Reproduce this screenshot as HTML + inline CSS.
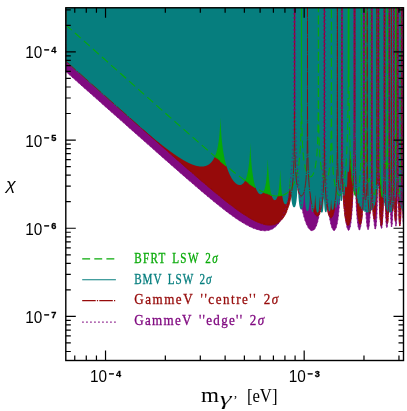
<!DOCTYPE html>
<html><head><meta charset="utf-8"><title>plot</title>
<style>html,body{margin:0;padding:0;background:#fff;}svg{display:block;}</style></head>
<body>
<svg width="407" height="411" viewBox="0 0 407 411">
<rect width="407" height="411" fill="#fff"/>
<defs><clipPath id="c"><rect x="65.8" y="7.8" width="337.70" height="352.70"/></clipPath>
<path id="purple" d="M65.80 1.80 L65.80 71.49 L70.65 75.79 L75.50 80.09 L80.34 84.39 L85.19 88.70 L90.04 93.00 L94.89 97.30 L99.73 101.61 L104.58 105.91 L109.43 110.21 L114.28 114.51 L119.13 118.81 L123.97 123.11 L128.82 127.41 L133.67 131.70 L138.52 136.00 L143.37 140.29 L148.21 144.58 L153.06 148.86 L157.91 153.15 L162.76 157.42 L167.60 161.69 L172.45 165.95 L177.30 170.20 L182.15 174.43 L187.00 178.65 L191.84 182.84 L196.69 187.01 L201.54 191.14 L206.39 195.23 L211.24 199.27 L216.08 203.23 L220.93 207.11 L225.78 210.88 L230.63 214.50 L235.47 217.95 L240.32 221.18 L245.17 224.11 L250.02 226.67 L254.87 228.74 L259.71 230.17 L261.09 230.42 L262.47 230.61 L263.84 230.70 L265.20 230.71 L266.56 230.62 L267.90 230.43 L269.23 230.12 L270.55 229.69 L271.85 229.14 L273.13 228.44 L274.38 227.60 L275.62 226.61 L276.82 225.45 L278.00 224.12 L279.15 222.60 L280.27 220.89 L281.36 218.98 L282.41 216.85 L283.42 214.49 L284.39 211.89 L285.33 209.03 L286.22 205.89 L287.07 202.47 L287.88 198.73 L288.64 194.65 L289.35 190.20 L290.01 185.36 L290.63 180.07 L291.20 174.31 L291.71 167.99 L292.17 161.06 L292.58 153.41 L292.94 144.91 L293.24 135.33 L293.49 124.31 L293.68 111.07 L293.82 93.76 L293.91 66.05 L293.93 1.80 L293.95 54.34 L294.00 79.94 L294.07 93.86 L294.17 102.57 L294.29 108.05 L294.42 111.13 L294.56 112.17 L294.69 111.26 L294.83 108.29 L294.94 102.91 L295.04 94.29 L295.12 80.43 L295.16 54.88 L295.18 1.80 L295.19 52.80 L295.23 79.96 L295.30 96.48 L295.39 108.80 L295.52 118.90 L295.66 127.62 L295.84 135.40 L296.04 142.45 L296.27 148.94 L296.52 154.96 L296.80 160.57 L297.10 165.83 L297.42 170.77 L297.77 175.42 L298.14 179.80 L298.53 183.94 L298.94 187.86 L299.37 191.56 L299.82 195.06 L300.30 198.37 L300.78 201.50 L301.29 204.46 L301.81 207.25 L302.34 209.87 L302.89 212.33 L303.45 214.64 L304.02 216.79 L304.60 218.78 L305.20 220.63 L305.80 222.32 L306.40 223.86 L307.02 225.25 L307.63 226.48 L308.26 227.56 L308.88 228.48 L309.51 229.24 L310.13 229.84 L310.75 230.28 L311.38 230.54 L311.99 230.64 L312.61 230.56 L313.21 230.31 L313.81 229.88 L314.41 229.26 L314.99 228.45 L315.56 227.45 L316.12 226.25 L316.67 224.85 L317.20 223.24 L317.72 221.41 L318.23 219.37 L318.72 217.09 L319.19 214.58 L319.64 211.83 L320.07 208.82 L320.48 205.55 L320.87 202.00 L321.24 198.15 L321.59 193.99 L321.91 189.49 L322.21 184.63 L322.49 179.36 L322.74 173.65 L322.97 167.43 L323.17 160.60 L323.35 153.03 L323.49 144.47 L323.62 134.50 L323.71 122.27 L323.78 105.82 L323.82 78.70 L323.83 1.80 L323.85 80.81 L323.90 106.41 L323.97 120.34 L324.07 129.06 L324.19 134.55 L324.32 137.64 L324.45 138.67 L324.59 137.76 L324.72 134.79 L324.84 129.40 L324.94 120.76 L325.01 106.90 L325.06 81.34 L325.08 1.80 L325.09 76.65 L325.12 103.72 L325.18 120.10 L325.27 132.25 L325.37 142.14 L325.50 150.63 L325.65 158.16 L325.83 164.97 L326.02 171.19 L326.24 176.94 L326.48 182.26 L326.73 187.21 L327.01 191.82 L327.30 196.12 L327.61 200.12 L327.94 203.84 L328.28 207.30 L328.64 210.50 L329.01 213.46 L329.39 216.17 L329.79 218.64 L330.19 220.88 L330.61 222.88 L331.03 224.65 L331.45 226.19 L331.89 227.50 L332.32 228.57 L332.76 229.41 L333.20 230.01 L333.64 230.37 L334.08 230.48 L334.51 230.35 L334.95 229.97 L335.37 229.34 L335.79 228.45 L336.21 227.30 L336.61 225.88 L337.01 224.19 L337.39 222.22 L337.76 219.96 L338.12 217.41 L338.46 214.56 L338.79 211.40 L339.10 207.92 L339.39 204.09 L339.67 199.90 L339.92 195.33 L340.16 190.35 L340.38 184.90 L340.57 178.93 L340.75 172.35 L340.90 165.00 L341.03 156.66 L341.13 146.89 L341.22 134.84 L341.28 118.52 L341.31 91.49 L341.32 1.80 L341.34 96.21 L341.39 121.82 L341.46 135.76 L341.56 144.50 L341.68 150.00 L341.81 153.10 L341.94 154.13 L342.08 153.22 L342.21 150.24 L342.33 144.83 L342.43 136.18 L342.50 122.31 L342.55 96.74 L342.57 1.80 L342.58 96.36 L342.63 123.54 L342.70 140.09 L342.80 152.42 L342.93 162.50 L343.09 171.16 L343.28 178.80 L343.49 185.65 L343.73 191.85 L343.99 197.48 L344.27 202.58 L344.58 207.21 L344.90 211.39 L345.24 215.13 L345.60 218.45 L345.97 221.35 L346.35 223.84 L346.74 225.93 L347.14 227.61 L347.54 228.88 L347.95 229.74 L348.35 230.18 L348.76 230.21 L349.16 229.81 L349.56 228.98 L349.95 227.71 L350.33 226.00 L350.70 223.84 L351.06 221.21 L351.40 218.11 L351.72 214.52 L352.02 210.42 L352.31 205.78 L352.57 200.57 L352.81 194.73 L353.02 188.19 L353.21 180.80 L353.36 172.35 L353.50 162.44 L353.60 150.23 L353.67 133.77 L353.72 106.64 L353.73 1.80 L353.75 107.06 L353.79 132.68 L353.87 146.63 L353.97 155.39 L354.08 160.91 L354.22 164.02 L354.35 165.06 L354.49 164.14 L354.62 161.14 L354.74 155.72 L354.84 147.05 L354.91 133.15 L354.96 107.57 L354.98 1.80 L354.99 109.60 L355.04 136.84 L355.13 153.45 L355.24 165.86 L355.39 175.97 L355.57 184.62 L355.78 192.17 L356.01 198.85 L356.27 204.77 L356.55 210.01 L356.86 214.60 L357.18 218.57 L357.52 221.94 L357.87 224.72 L358.23 226.91 L358.60 228.51 L358.98 229.51 L359.35 229.92 L359.73 229.73 L360.10 228.92 L360.46 227.49 L360.81 225.44 L361.15 222.75 L361.48 219.40 L361.78 215.37 L362.06 210.64 L362.32 205.16 L362.56 198.85 L362.77 191.61 L362.94 183.22 L363.09 173.30 L363.21 161.05 L363.29 144.54 L363.34 117.36 L363.36 1.80 L363.37 115.38 L363.42 141.01 L363.49 154.99 L363.59 163.77 L363.71 169.32 L363.84 172.44 L363.98 173.49 L364.12 172.56 L364.25 169.54 L364.37 164.10 L364.47 155.40 L364.54 141.48 L364.59 115.88 L364.60 1.80 L364.62 120.61 L364.68 147.91 L364.77 164.60 L364.91 177.05 L365.07 187.17 L365.28 195.72 L365.51 203.06 L365.77 209.38 L366.05 214.78 L366.36 219.32 L366.69 223.01 L367.03 225.88 L367.38 227.93 L367.73 229.14 L368.09 229.53 L368.45 229.08 L368.80 227.78 L369.14 225.61 L369.46 222.57 L369.77 218.63 L370.06 213.76 L370.32 207.89 L370.55 200.93 L370.75 192.70 L370.92 182.83 L371.05 170.56 L371.15 154.00 L371.20 126.77 L371.22 1.80 L371.24 122.08 L371.28 147.74 L371.36 161.74 L371.46 170.56 L371.57 176.13 L371.71 179.27 L371.84 180.32 L371.98 179.38 L372.11 176.35 L372.23 170.87 L372.33 162.14 L372.40 148.19 L372.45 122.57 L372.47 1.80 L372.49 127.58 L372.54 154.85 L372.64 171.47 L372.78 183.81 L372.94 193.74 L373.15 202.03 L373.38 209.02 L373.63 214.87 L373.91 219.68 L374.21 223.49 L374.52 226.31 L374.84 228.14 L375.17 228.99 L375.49 228.84 L375.82 227.69 L376.13 225.52 L376.43 222.31 L376.70 218.04 L376.96 212.66 L377.19 206.07 L377.39 198.12 L377.56 188.44 L377.70 176.30 L377.79 159.81 L377.85 132.62 L377.87 1.80 L377.89 127.66 L377.93 153.33 L378.01 167.38 L378.11 176.23 L378.22 181.83 L378.36 185.00 L378.49 186.06 L378.63 185.11 L378.76 182.05 L378.88 176.53 L378.98 167.75 L379.05 153.77 L379.10 128.12 L379.11 1.80 L379.14 134.38 L379.20 161.63 L379.30 178.21 L379.44 190.45 L379.62 200.18 L379.83 208.14 L380.07 214.65 L380.33 219.86 L380.62 223.83 L380.91 226.58 L381.22 228.12 L381.53 228.45 L381.83 227.55 L382.13 225.42 L382.41 222.02 L382.68 217.33 L382.92 211.26 L383.13 203.66 L383.30 194.21 L383.45 182.19 L383.55 165.76 L383.61 138.59 L383.63 1.80 L383.65 132.39 L383.69 158.09 L383.77 172.17 L383.87 181.07 L383.98 186.71 L384.12 189.90 L384.25 190.97 L384.39 190.01 L384.52 186.92 L384.64 181.36 L384.74 172.54 L384.81 158.50 L384.86 132.83 L384.87 1.80 L384.90 139.42 L384.96 166.62 L385.06 183.10 L385.21 195.15 L385.39 204.61 L385.60 212.18 L385.83 218.15 L386.09 222.66 L386.37 225.76 L386.65 227.47 L386.94 227.77 L387.22 226.66 L387.50 224.13 L387.75 220.13 L387.99 214.61 L388.20 207.42 L388.38 198.26 L388.52 186.43 L388.63 170.11 L388.69 143.00 L388.71 1.80 L388.73 136.46 L388.77 162.20 L388.85 176.32 L388.95 185.27 L389.06 190.96 L389.20 194.18 L389.33 195.26 L389.47 194.28 L389.60 191.16 L389.72 185.55 L389.82 176.67 L389.89 162.58 L389.94 136.87 L389.96 1.80 L389.98 144.39 L390.04 171.55 L390.15 187.91 L390.30 199.76 L390.49 208.87 L390.70 215.93 L390.94 221.19 L391.20 224.77 L391.47 226.70 L391.74 226.99 L392.01 225.62 L392.27 222.56 L392.51 217.77 L392.72 211.11 L392.91 202.32 L393.06 190.72 L393.17 174.52 L393.24 147.47 L393.26 1.80 L393.27 140.00 L393.32 165.77 L393.39 179.95 L393.49 188.95 L393.61 194.70 L393.74 197.95 L393.88 199.04 L394.02 198.05 L394.15 194.88 L394.27 189.22 L394.36 180.27 L394.44 166.13 L394.48 140.38 L394.50 1.80 L394.52 147.23 L394.59 174.28 L394.69 190.47 L394.84 202.06 L395.01 210.83 L395.22 217.44 L395.44 222.16 L395.69 225.07 L395.93 226.22 L396.18 225.59 L396.43 223.17 L396.65 218.90 L396.86 212.67 L397.03 204.22 L397.18 192.87 L397.28 176.85 L397.35 149.89 L397.37 1.80 L397.38 143.10 L397.43 168.91 L397.50 183.15 L397.60 192.22 L397.72 198.02 L397.85 201.31 L397.99 202.41 L398.13 201.40 L398.26 198.19 L398.38 192.46 L398.48 183.45 L398.55 169.24 L398.60 143.45 L398.61 1.80 L398.63 149.88 L398.70 176.83 L398.80 192.84 L398.94 204.16 L399.11 212.55 L399.31 218.67 L399.52 222.77 L399.75 224.92 L399.98 225.16 L400.21 223.47 L400.43 219.81 L400.62 214.06 L400.79 205.97 L400.93 194.89 L401.04 179.05 L401.10 152.20 L401.12 1.80 L401.14 145.82 L401.18 171.68 L401.26 185.98 L401.36 195.12 L401.47 200.99 L401.61 204.33 L401.74 205.44 L401.88 204.41 L402.01 201.15 L402.13 195.34 L402.23 186.25 L402.30 171.97 L402.35 146.13 L402.36 1.80 L402.38 144.67 L402.42 171.31 L402.49 186.89 L402.58 197.80 L402.69 205.92 L402.81 212.06 L402.93 216.61 L403.06 219.85 L403.18 222.01 L403.29 223.29 L403.38 223.95 L403.44 224.20 L403.49 224.25 L403.50 224.25 L403.50 1.80"/>
<path id="red" d="M65.80 1.80 L65.80 61.09 L70.66 65.41 L75.52 69.72 L80.38 74.04 L85.24 78.35 L90.10 82.67 L94.97 86.98 L99.83 91.30 L104.69 95.61 L109.55 99.92 L114.41 104.24 L119.27 108.55 L124.13 112.86 L128.99 117.17 L133.85 121.48 L138.71 125.79 L143.58 130.09 L148.44 134.40 L153.30 138.70 L158.16 143.00 L163.02 147.29 L167.88 151.58 L172.74 155.86 L177.60 160.13 L182.46 164.39 L187.32 168.64 L192.18 172.87 L197.05 177.08 L201.91 181.26 L206.77 185.40 L211.63 189.50 L216.49 193.55 L221.35 197.53 L226.21 201.42 L231.07 205.21 L235.93 208.85 L240.79 212.31 L245.66 215.55 L250.52 218.50 L255.38 221.07 L260.24 223.14 L261.62 223.61 L263.00 224.03 L264.37 224.38 L265.74 224.67 L267.10 224.87 L268.45 225.00 L269.78 225.04 L271.10 224.99 L272.41 224.84 L273.69 224.59 L274.95 224.22 L276.18 223.74 L277.39 223.14 L278.58 222.41 L279.73 221.54 L280.85 220.54 L281.94 219.39 L282.99 218.08 L284.01 216.61 L284.98 214.98 L285.92 213.16 L286.82 211.17 L287.67 208.97 L288.48 206.57 L289.24 203.94 L289.95 201.07 L290.62 197.92 L291.24 194.48 L291.81 190.69 L292.32 186.49 L292.79 181.81 L293.20 176.52 L293.55 170.44 L293.86 163.30 L294.11 154.61 L294.30 143.48 L294.44 127.87 L294.52 101.27 L294.55 1.80 L294.56 87.89 L294.61 114.38 L294.68 129.82 L294.77 140.71 L294.89 149.10 L295.04 155.88 L295.22 161.55 L295.42 166.38 L295.64 170.57 L295.89 174.23 L296.16 177.47 L296.45 180.33 L296.76 182.87 L297.08 185.13 L297.43 187.13 L297.79 188.89 L298.16 190.44 L298.55 191.77 L298.94 192.91 L299.35 193.87 L299.76 194.64 L300.18 195.22 L300.60 195.63 L301.02 195.87 L301.45 195.92 L301.87 195.80 L302.29 195.49 L302.70 195.00 L303.10 194.32 L303.50 193.44 L303.89 192.35 L304.26 191.04 L304.62 189.50 L304.96 187.70 L305.29 185.64 L305.60 183.27 L305.89 180.57 L306.16 177.48 L306.41 173.94 L306.63 169.87 L306.83 165.13 L307.00 159.55 L307.15 152.83 L307.28 144.50 L307.37 133.65 L307.44 118.24 L307.48 91.77 L307.50 1.80 L307.51 88.42 L307.54 114.99 L307.60 130.56 L307.68 141.64 L307.79 150.26 L307.91 157.34 L308.06 163.34 L308.23 168.56 L308.42 173.18 L308.63 177.33 L308.86 181.09 L309.12 184.53 L309.39 187.69 L309.67 190.61 L309.98 193.31 L310.30 195.82 L310.64 198.15 L310.99 200.31 L311.36 202.32 L311.73 204.17 L312.12 205.89 L312.53 207.46 L312.94 208.90 L313.35 210.21 L313.78 211.38 L314.21 212.42 L314.65 213.32 L315.09 214.10 L315.53 214.74 L315.97 215.24 L316.42 215.61 L316.86 215.84 L317.30 215.93 L317.74 215.87 L318.17 215.67 L318.59 215.32 L319.01 214.82 L319.42 214.16 L319.82 213.34 L320.21 212.36 L320.59 211.20 L320.96 209.87 L321.31 208.34 L321.65 206.61 L321.97 204.67 L322.27 202.50 L322.56 200.08 L322.83 197.38 L323.08 194.36 L323.31 190.98 L323.53 187.18 L323.72 182.86 L323.89 177.91 L324.04 172.14 L324.16 165.27 L324.27 156.81 L324.35 145.85 L324.40 130.37 L324.44 103.85 L324.45 1.80 L324.46 107.24 L324.51 133.77 L324.57 149.29 L324.67 160.28 L324.79 168.80 L324.94 175.73 L325.12 181.57 L325.32 186.59 L325.54 190.98 L325.79 194.86 L326.06 198.31 L326.35 201.39 L326.66 204.14 L326.98 206.60 L327.33 208.79 L327.69 210.73 L328.06 212.42 L328.45 213.88 L328.84 215.12 L329.25 216.12 L329.66 216.91 L330.08 217.47 L330.50 217.81 L330.92 217.92 L331.35 217.81 L331.77 217.46 L332.19 216.88 L332.60 216.07 L333.00 215.01 L333.40 213.70 L333.79 212.13 L334.16 210.30 L334.52 208.20 L334.86 205.81 L335.19 203.12 L335.50 200.11 L335.79 196.76 L336.06 193.01 L336.30 188.83 L336.53 184.12 L336.73 178.80 L336.90 172.67 L337.05 165.46 L337.18 156.71 L337.27 145.53 L337.34 129.87 L337.38 103.24 L337.40 1.80 L337.42 111.26 L337.48 137.55 L337.58 152.65 L337.73 163.05 L337.91 170.77 L338.12 176.69 L338.36 181.29 L338.62 184.81 L338.91 187.41 L339.21 189.18 L339.51 190.17 L339.82 190.41 L340.13 189.88 L340.43 188.56 L340.71 186.38 L340.98 183.26 L341.22 179.02 L341.43 173.40 L341.61 165.94 L341.75 155.74 L341.86 140.79 L341.92 114.59 L341.94 1.80 L341.95 106.62 L342.00 133.30 L342.06 149.05 L342.16 160.37 L342.28 169.29 L342.43 176.69 L342.61 183.05 L342.81 188.63 L343.03 193.61 L343.28 198.09 L343.54 202.15 L343.83 205.83 L344.14 209.17 L344.46 212.18 L344.81 214.88 L345.16 217.28 L345.53 219.37 L345.92 221.17 L346.31 222.66 L346.71 223.85 L347.11 224.73 L347.52 225.30 L347.94 225.54 L348.35 225.46 L348.77 225.03 L349.18 224.27 L349.58 223.14 L349.98 221.65 L350.38 219.78 L350.76 217.52 L351.13 214.86 L351.48 211.77 L351.83 208.25 L352.15 204.26 L352.46 199.77 L352.75 194.76 L353.01 189.18 L353.26 182.97 L353.48 176.07 L353.68 168.37 L353.86 159.75 L354.01 149.99 L354.13 138.73 L354.23 125.23 L354.29 107.67 L354.34 79.78 L354.35 1.80 L354.36 65.20 L354.38 90.79 L354.41 104.69 L354.45 113.38 L354.50 118.83 L354.56 121.88 L354.62 122.88 L354.68 121.93 L354.73 118.92 L354.78 113.50 L354.83 104.85 L354.86 90.97 L354.88 65.40 L354.89 1.80 L354.90 83.28 L354.95 111.42 L355.03 129.32 L355.15 143.19 L355.29 154.79 L355.46 164.84 L355.66 173.70 L355.89 181.57 L356.15 188.58 L356.43 194.83 L356.73 200.38 L357.05 205.29 L357.38 209.59 L357.74 213.31 L358.10 216.48 L358.47 219.10 L358.85 221.18 L359.24 222.74 L359.62 223.78 L360.01 224.29 L360.39 224.29 L360.76 223.77 L361.12 222.72 L361.48 221.15 L361.81 219.05 L362.13 216.41 L362.43 213.19 L362.71 209.38 L362.97 204.91 L363.20 199.70 L363.40 193.59 L363.57 186.36 L363.72 177.53 L363.83 166.26 L363.91 150.52 L363.96 123.84 L363.98 1.80 L364.00 129.90 L364.07 156.06 L364.18 170.92 L364.33 180.95 L364.51 188.15 L364.73 193.36 L364.97 197.03 L365.23 199.35 L365.50 200.46 L365.77 200.40 L366.04 199.17 L366.30 196.71 L366.54 192.92 L366.76 187.56 L366.94 180.23 L367.09 170.08 L367.21 155.13 L367.27 128.91 L367.29 1.80 L367.32 127.74 L367.38 154.35 L367.48 169.95 L367.63 181.00 L367.80 189.48 L368.02 196.22 L368.26 201.63 L368.52 205.94 L368.81 209.24 L369.11 211.61 L369.41 213.07 L369.72 213.63 L370.03 213.28 L370.33 211.99 L370.61 209.72 L370.88 206.40 L371.12 201.88 L371.33 195.93 L371.51 188.14 L371.65 177.64 L371.76 162.45 L371.82 136.09 L371.84 1.80 L371.86 135.09 L371.92 161.62 L372.02 177.11 L372.15 188.02 L372.32 196.34 L372.53 202.92 L372.76 208.17 L373.02 212.33 L373.30 215.51 L373.60 217.78 L373.90 219.15 L374.22 219.65 L374.54 219.27 L374.86 218.00 L375.17 215.82 L375.46 212.70 L375.74 208.61 L376.00 203.49 L376.23 197.24 L376.44 189.65 L376.61 180.36 L376.74 168.58 L376.84 152.40 L376.90 125.41 L376.92 1.80 L376.94 124.69 L377.00 150.43 L377.09 164.57 L377.22 173.53 L377.36 179.27 L377.53 182.58 L377.70 183.77 L377.88 182.94 L378.05 179.98 L378.19 174.55 L378.32 165.83 L378.41 151.89 L378.47 126.27 L378.49 1.80 L378.51 126.52 L378.57 153.62 L378.66 170.00 L378.80 182.05 L378.96 191.69 L379.16 199.71 L379.39 206.46 L379.65 212.12 L379.93 216.79 L380.23 220.49 L380.54 223.23 L380.87 225.02 L381.20 225.84 L381.54 225.66 L381.87 224.48 L382.20 222.27 L382.51 218.98 L382.81 214.60 L383.09 209.06 L383.35 202.29 L383.58 194.19 L383.78 184.59 L383.94 173.16 L384.08 159.27 L384.17 141.21 L384.23 112.89 L384.25 1.80 L384.26 91.62 L384.28 117.21 L384.31 131.12 L384.35 139.83 L384.40 145.29 L384.46 148.34 L384.52 149.33 L384.58 148.36 L384.63 145.33 L384.68 139.89 L384.73 131.20 L384.76 117.30 L384.78 91.71 L384.78 1.80 L384.81 114.65 L384.87 143.10 L384.97 161.31 L385.12 175.33 L385.29 186.79 L385.51 196.33 L385.75 204.26 L386.01 210.72 L386.30 215.82 L386.60 219.60 L386.90 222.10 L387.21 223.33 L387.52 223.32 L387.82 222.06 L388.10 219.55 L388.37 215.74 L388.61 210.57 L388.82 203.87 L389.00 195.29 L389.14 184.06 L389.25 168.27 L389.31 141.52 L389.33 1.80 L389.35 140.44 L389.41 166.46 L389.51 181.06 L389.64 190.67 L389.80 197.22 L389.98 201.51 L390.18 203.90 L390.38 204.56 L390.59 203.52 L390.78 200.74 L390.97 196.08 L391.13 189.17 L391.26 179.24 L391.35 164.39 L391.41 138.20 L391.43 1.80 L391.46 138.81 L391.52 165.30 L391.62 180.64 L391.75 191.22 L391.92 198.92 L392.11 204.50 L392.32 208.30 L392.54 210.45 L392.77 211.00 L392.99 209.94 L393.20 207.19 L393.39 202.58 L393.56 195.74 L393.69 185.88 L393.79 171.09 L393.85 144.94 L393.87 1.80 L393.90 146.73 L393.96 173.33 L394.07 188.85 L394.22 199.68 L394.41 207.68 L394.63 213.60 L394.87 217.75 L395.13 220.25 L395.40 221.14 L395.67 220.43 L395.94 218.08 L396.20 214.05 L396.44 208.27 L396.66 200.60 L396.84 190.79 L396.99 178.20 L397.10 161.15 L397.17 133.49 L397.19 1.80 L397.20 117.03 L397.23 142.71 L397.28 156.74 L397.34 165.59 L397.42 171.21 L397.50 174.40 L397.59 175.50 L397.68 174.61 L397.76 171.62 L397.84 166.18 L397.90 157.47 L397.95 143.55 L397.98 117.94 L397.99 1.80 L398.01 132.96 L398.07 160.71 L398.17 177.95 L398.31 190.85 L398.49 201.14 L398.69 209.43 L398.92 215.98 L399.18 220.87 L399.44 224.16 L399.72 225.83 L400.00 225.87 L400.28 224.27 L400.55 220.98 L400.80 215.97 L401.03 209.17 L401.24 200.46 L401.41 189.58 L401.55 175.95 L401.66 157.97 L401.72 129.64 L401.74 1.80 L401.75 106.93 L401.77 132.54 L401.80 146.47 L401.84 155.20 L401.89 160.67 L401.95 163.73 L402.01 164.70 L402.07 163.71 L402.12 160.64 L402.17 155.14 L402.22 146.41 L402.25 132.46 L402.27 106.85 L402.27 1.80 L402.29 123.42 L402.34 151.11 L402.41 168.22 L402.51 180.90 L402.62 190.87 L402.75 198.82 L402.89 205.12 L403.02 209.99 L403.15 213.65 L403.27 216.27 L403.37 218.06 L403.44 219.19 L403.48 219.79 L403.50 219.98 L403.50 1.80"/>
<path id="green" d="M65.80 1.80 L65.80 24.88 L70.81 29.33 L75.82 33.77 L80.83 38.22 L85.84 42.66 L90.84 47.11 L95.85 51.56 L100.86 56.00 L105.87 60.45 L110.88 64.89 L115.89 69.34 L120.90 73.78 L125.91 78.23 L130.91 82.67 L135.92 87.11 L140.93 91.55 L145.94 95.99 L150.95 100.43 L155.96 104.86 L160.97 109.30 L165.98 113.73 L170.98 118.15 L175.99 122.57 L181.00 126.98 L186.01 131.38 L191.02 135.77 L196.03 140.15 L201.04 144.50 L206.05 148.83 L211.05 153.14 L216.06 157.40 L221.07 161.61 L226.08 165.77 L231.09 169.84 L236.10 173.82 L241.11 177.67 L246.12 181.36 L251.12 184.84 L256.13 188.05 L261.14 190.91 L266.15 193.30 L267.57 193.88 L269.00 194.40 L270.41 194.86 L271.82 195.25 L273.22 195.57 L274.61 195.82 L275.99 195.98 L277.35 196.05 L278.69 196.03 L280.01 195.91 L281.31 195.68 L282.58 195.34 L283.83 194.88 L285.05 194.30 L286.24 193.58 L287.39 192.73 L288.51 191.74 L289.60 190.59 L290.64 189.29 L291.65 187.82 L292.62 186.18 L293.54 184.35 L294.42 182.33 L295.25 180.10 L296.03 177.65 L296.77 174.94 L297.46 171.97 L298.09 168.69 L298.68 165.06 L299.21 161.01 L299.69 156.47 L300.11 151.32 L300.48 145.36 L300.79 138.32 L301.05 129.72 L301.25 118.66 L301.39 103.10 L301.48 76.53 L301.51 1.80 L301.52 59.13 L301.55 85.65 L301.61 101.13 L301.69 112.08 L301.79 120.55 L301.92 127.43 L302.07 133.22 L302.24 138.19 L302.43 142.54 L302.64 146.39 L302.87 149.83 L303.12 152.93 L303.39 155.73 L303.67 158.27 L303.98 160.59 L304.30 162.70 L304.63 164.62 L304.99 166.38 L305.35 167.97 L305.73 169.42 L306.11 170.72 L306.51 171.88 L306.92 172.92 L307.34 173.82 L307.76 174.61 L308.19 175.27 L308.62 175.80 L309.06 176.22 L309.50 176.52 L309.94 176.70 L310.39 176.75 L310.83 176.69 L311.26 176.50 L311.70 176.19 L312.13 175.74 L312.55 175.17 L312.97 174.46 L313.38 173.62 L313.77 172.63 L314.16 171.49 L314.54 170.19 L314.90 168.74 L315.25 167.11 L315.59 165.29 L315.91 163.27 L316.21 161.04 L316.50 158.56 L316.77 155.82 L317.02 152.77 L317.25 149.36 L317.46 145.54 L317.65 141.21 L317.82 136.25 L317.97 130.48 L318.09 123.60 L318.20 115.14 L318.28 104.18 L318.33 88.70 L318.37 62.18 L318.38 1.80 L318.39 64.99 L318.43 91.53 L318.50 107.04 L318.59 118.04 L318.71 126.57 L318.86 133.51 L319.03 139.37 L319.22 144.41 L319.44 148.84 L319.67 152.76 L319.93 156.26 L320.22 159.42 L320.52 162.26 L320.83 164.83 L321.17 167.16 L321.52 169.25 L321.88 171.14 L322.26 172.82 L322.64 174.30 L323.04 175.59 L323.44 176.70 L323.85 177.63 L324.27 178.37 L324.69 178.93 L325.10 179.31 L325.52 179.50 L325.93 179.51 L326.34 179.32 L326.75 178.93 L327.14 178.35 L327.53 177.55 L327.91 176.53 L328.27 175.28 L328.62 173.79 L328.95 172.04 L329.27 170.01 L329.57 167.66 L329.85 164.98 L330.11 161.90 L330.35 158.36 L330.57 154.29 L330.76 149.55 L330.93 143.96 L331.08 137.24 L331.19 128.90 L331.29 118.04 L331.35 102.63 L331.39 76.15 L331.41 1.80 L331.42 73.38 L331.45 99.95 L331.51 115.52 L331.59 126.60 L331.69 135.22 L331.82 142.28 L331.97 148.27 L332.14 153.48 L332.33 158.08 L332.54 162.21 L332.77 165.93 L333.02 169.32 L333.29 172.43 L333.57 175.28 L333.88 177.89 L334.20 180.30 L334.53 182.51 L334.88 184.53 L335.25 186.38 L335.63 188.05 L336.01 189.55 L336.41 190.88 L336.82 192.04 L337.24 193.03 L337.66 193.85 L338.09 194.49 L338.52 194.97 L338.96 195.26 L339.40 195.37 L339.84 195.29 L340.29 195.03 L340.73 194.57 L341.16 193.90 L341.60 193.03 L342.03 191.95 L342.45 190.65 L342.87 189.12 L343.28 187.36 L343.67 185.36 L344.06 183.11 L344.44 180.60 L344.80 177.82 L345.15 174.75 L345.49 171.38 L345.81 167.69 L346.11 163.67 L346.40 159.28 L346.67 154.50 L346.92 149.30 L347.15 143.63 L347.36 137.44 L347.55 130.66 L347.72 123.19 L347.87 114.90 L347.99 105.58 L348.10 94.83 L348.18 81.87 L348.23 64.80 L348.27 37.27 L348.28 1.80 L348.29 28.96 L348.31 54.54 L348.35 68.45 L348.40 77.14 L348.45 82.61 L348.52 85.66 L348.59 86.67 L348.66 85.73 L348.72 82.74 L348.78 77.33 L348.83 68.69 L348.87 54.82 L348.89 29.26 L348.90 1.80 L348.91 41.12 L348.95 68.87 L349.02 86.26 L349.12 99.59 L349.24 110.72 L349.39 120.41 L349.56 129.04 L349.76 136.81 L349.99 143.87 L350.23 150.29 L350.50 156.16 L350.79 161.53 L351.10 166.44 L351.42 170.91 L351.76 174.99 L352.12 178.68 L352.49 182.00 L352.87 184.96 L353.26 187.58 L353.66 189.86 L354.07 191.80 L354.48 193.42 L354.89 194.70 L355.31 195.66 L355.72 196.29 L356.13 196.59 L356.54 196.57 L356.94 196.22 L357.33 195.53 L357.71 194.52 L358.08 193.17 L358.44 191.48 L358.78 189.43 L359.11 187.03 L359.41 184.26 L359.70 181.08 L359.97 177.48 L360.22 173.40 L360.44 168.78 L360.64 163.50 L360.81 157.40 L360.96 150.21 L361.09 141.47 L361.18 130.28 L361.25 114.62 L361.29 87.99 L361.31 1.80 L361.33 95.67 L361.39 121.96 L361.49 137.05 L361.63 147.42 L361.81 155.10 L362.01 160.97 L362.25 165.47 L362.51 168.86 L362.79 171.29 L363.08 172.84 L363.39 173.57 L363.69 173.49 L363.99 172.60 L364.29 170.88 L364.57 168.28 L364.83 164.71 L365.06 160.03 L365.27 153.99 L365.45 146.15 L365.59 135.63 L365.69 120.44 L365.75 94.08 L365.77 1.80 L365.79 93.73 L365.85 120.28 L365.95 135.80 L366.09 146.76 L366.26 155.17 L366.47 161.89 L366.71 167.35 L366.97 171.80 L367.25 175.38 L367.55 178.15 L367.87 180.16 L368.19 181.44 L368.51 181.99 L368.83 181.79 L369.15 180.83 L369.45 179.08 L369.73 176.47 L370.00 172.91 L370.23 168.26 L370.44 162.25 L370.61 154.44 L370.75 143.96 L370.85 128.80 L370.91 102.46 L370.93 1.80 L370.95 100.82 L371.01 127.42 L371.10 143.03 L371.23 154.14 L371.39 162.74 L371.58 169.71 L371.81 175.50 L372.06 180.35 L372.34 184.40 L372.64 187.73 L372.96 190.39 L373.30 192.39 L373.65 193.75 L374.01 194.45 L374.37 194.50 L374.74 193.87 L375.10 192.55 L375.46 190.51 L375.81 187.73 L376.15 184.18 L376.47 179.82 L376.77 174.60 L377.05 168.47 L377.31 161.34 L377.53 153.08 L377.72 143.50 L377.89 132.27 L378.01 118.68 L378.11 100.96 L378.16 72.93 L378.18 1.80 L378.19 55.33 L378.21 80.93 L378.25 94.86 L378.30 103.57 L378.35 109.06 L378.42 112.13 L378.49 113.15 L378.56 112.22 L378.62 109.23 L378.68 103.82 L378.73 95.17 L378.77 81.29 L378.79 55.72 L378.80 1.80 L378.82 74.28 L378.87 102.45 L378.97 120.36 L379.10 134.18 L379.27 145.67 L379.47 155.50 L379.71 164.01 L379.97 171.37 L380.26 177.71 L380.56 183.10 L380.89 187.57 L381.23 191.17 L381.58 193.90 L381.94 195.79 L382.30 196.84 L382.66 197.05 L383.01 196.42 L383.35 194.96 L383.68 192.66 L383.99 189.50 L384.27 185.45 L384.53 180.45 L384.77 174.39 L384.97 167.06 L385.14 158.08 L385.27 146.61 L385.37 130.69 L385.43 103.89 L385.45 1.80 L385.47 104.24 L385.53 130.26 L385.62 144.88 L385.75 154.56 L385.91 161.27 L386.10 165.84 L386.30 168.69 L386.52 169.99 L386.73 169.85 L386.95 168.25 L387.15 165.11 L387.34 160.26 L387.50 153.29 L387.63 143.39 L387.73 128.59 L387.79 102.46 L387.81 1.80 L387.83 103.40 L387.89 130.04 L387.99 145.66 L388.13 156.69 L388.30 165.06 L388.51 171.56 L388.73 176.57 L388.98 180.27 L389.24 182.74 L389.51 184.02 L389.77 184.12 L390.03 183.00 L390.28 180.60 L390.50 176.82 L390.71 171.44 L390.88 164.06 L391.02 153.85 L391.12 138.84 L391.18 112.58 L391.21 1.80 L391.23 112.56 L391.29 139.14 L391.39 154.69 L391.53 165.65 L391.71 173.96 L391.91 180.45 L392.15 185.48 L392.41 189.26 L392.69 191.85 L392.98 193.29 L393.29 193.59 L393.59 192.72 L393.89 190.65 L394.19 187.36 L394.46 182.78 L394.72 176.86 L394.96 169.49 L395.17 160.51 L395.34 149.62 L395.49 136.16 L395.59 118.44 L395.65 90.35 L395.67 1.80 L395.68 70.58 L395.70 96.20 L395.74 110.15 L395.79 118.90 L395.84 124.43 L395.91 127.53 L395.98 128.58 L396.05 127.66 L396.11 124.67 L396.17 119.25 L396.22 110.59 L396.26 96.70 L396.28 71.12 L396.29 1.80 L396.31 91.30 L396.37 119.52 L396.47 137.46 L396.62 151.19 L396.80 162.41 L397.01 171.75 L397.25 179.49 L397.51 185.77 L397.80 190.67 L398.10 194.22 L398.40 196.46 L398.71 197.38 L399.02 197.00 L399.32 195.31 L399.60 192.31 L399.87 187.96 L400.11 182.20 L400.32 174.90 L400.50 165.72 L400.64 153.95 L400.75 137.72 L400.81 110.68 L400.83 1.80 L400.85 107.87 L400.90 133.58 L400.99 147.67 L401.11 156.54 L401.25 162.13 L401.41 165.20 L401.58 166.08 L401.74 164.87 L401.90 161.49 L402.04 155.60 L402.16 146.47 L402.25 132.18 L402.30 106.33 L402.32 1.80 L402.33 102.15 L402.38 128.76 L402.45 144.31 L402.54 155.22 L402.65 163.43 L402.78 169.76 L402.91 174.63 L403.04 178.30 L403.17 180.97 L403.28 182.83 L403.37 184.04 L403.44 184.77 L403.49 185.14 L403.50 185.26 L403.50 1.80"/>
<path id="teal" d="M64.80 1.80 L64.80 60.96 L64.95 61.09 L65.10 61.22 L65.25 61.35 L65.40 61.49 L65.55 61.62 L65.70 61.75 L65.85 61.89 L66.00 62.02 L66.15 62.15 L66.30 62.29 L66.45 62.42 L66.60 62.55 L66.75 62.68 L66.90 62.82 L67.05 62.95 L67.20 63.08 L67.35 63.22 L67.50 63.35 L67.65 63.48 L67.80 63.61 L67.95 63.75 L68.10 63.88 L68.25 64.01 L68.40 64.15 L68.55 64.28 L68.70 64.41 L68.85 64.55 L69.00 64.68 L69.15 64.81 L69.30 64.94 L69.45 65.08 L69.60 65.21 L69.75 65.34 L69.90 65.48 L70.05 65.61 L70.20 65.74 L70.35 65.88 L70.50 66.01 L70.65 66.14 L70.80 66.27 L70.95 66.41 L71.10 66.54 L71.25 66.67 L71.40 66.81 L71.55 66.94 L71.70 67.07 L71.85 67.20 L72.00 67.34 L72.15 67.47 L72.30 67.60 L72.45 67.74 L72.60 67.87 L72.75 68.00 L72.90 68.14 L73.05 68.27 L73.20 68.40 L73.35 68.53 L73.50 68.67 L73.65 68.80 L73.80 68.93 L73.95 69.07 L74.10 69.20 L74.25 69.33 L74.40 69.46 L74.55 69.60 L74.70 69.73 L74.85 69.86 L75.00 70.00 L75.15 70.13 L75.30 70.26 L75.45 70.39 L75.60 70.53 L75.75 70.66 L75.90 70.79 L76.05 70.93 L76.20 71.06 L76.35 71.19 L76.50 71.32 L76.65 71.46 L76.80 71.59 L76.95 71.72 L77.10 71.86 L77.25 71.99 L77.40 72.12 L77.55 72.26 L77.70 72.39 L77.85 72.52 L78.00 72.65 L78.15 72.79 L78.30 72.92 L78.45 73.05 L78.60 73.19 L78.75 73.32 L78.90 73.45 L79.05 73.58 L79.20 73.72 L79.35 73.85 L79.50 73.98 L79.65 74.11 L79.80 74.25 L79.95 74.38 L80.10 74.51 L80.25 74.65 L80.40 74.78 L80.55 74.91 L80.70 75.04 L80.85 75.18 L81.00 75.31 L81.15 75.44 L81.30 75.58 L81.45 75.71 L81.60 75.84 L81.75 75.97 L81.90 76.11 L82.05 76.24 L82.20 76.37 L82.35 76.51 L82.50 76.64 L82.65 76.77 L82.80 76.90 L82.95 77.04 L83.10 77.17 L83.25 77.30 L83.40 77.44 L83.55 77.57 L83.70 77.70 L83.85 77.83 L84.00 77.97 L84.15 78.10 L84.30 78.23 L84.45 78.36 L84.60 78.50 L84.75 78.63 L84.90 78.76 L85.05 78.90 L85.20 79.03 L85.35 79.16 L85.50 79.29 L85.65 79.43 L85.80 79.56 L85.95 79.69 L86.10 79.82 L86.25 79.96 L86.40 80.09 L86.55 80.22 L86.70 80.36 L86.85 80.49 L87.00 80.62 L87.15 80.75 L87.30 80.89 L87.45 81.02 L87.60 81.15 L87.75 81.28 L87.90 81.42 L88.05 81.55 L88.20 81.68 L88.35 81.82 L88.50 81.95 L88.65 82.08 L88.80 82.21 L88.95 82.35 L89.10 82.48 L89.25 82.61 L89.40 82.74 L89.55 82.88 L89.70 83.01 L89.85 83.14 L90.00 83.27 L90.15 83.41 L90.30 83.54 L90.45 83.67 L90.60 83.80 L90.75 83.94 L90.90 84.07 L91.05 84.20 L91.20 84.34 L91.35 84.47 L91.50 84.60 L91.65 84.73 L91.80 84.87 L91.95 85.00 L92.10 85.13 L92.25 85.26 L92.40 85.40 L92.55 85.53 L92.70 85.66 L92.85 85.79 L93.00 85.93 L93.15 86.06 L93.30 86.19 L93.45 86.32 L93.60 86.46 L93.75 86.59 L93.90 86.72 L94.05 86.85 L94.20 86.99 L94.35 87.12 L94.50 87.25 L94.65 87.38 L94.80 87.52 L94.95 87.65 L95.10 87.78 L95.25 87.91 L95.40 88.05 L95.55 88.18 L95.70 88.31 L95.85 88.44 L96.00 88.58 L96.15 88.71 L96.30 88.84 L96.45 88.97 L96.60 89.11 L96.75 89.24 L96.90 89.37 L97.05 89.50 L97.20 89.64 L97.35 89.77 L97.50 89.90 L97.65 90.03 L97.80 90.17 L97.95 90.30 L98.10 90.43 L98.25 90.56 L98.40 90.70 L98.55 90.83 L98.70 90.96 L98.85 91.09 L99.00 91.22 L99.15 91.36 L99.30 91.49 L99.45 91.62 L99.60 91.75 L99.75 91.89 L99.90 92.02 L100.05 92.15 L100.20 92.28 L100.35 92.42 L100.50 92.55 L100.65 92.68 L100.80 92.81 L100.95 92.94 L101.10 93.08 L101.25 93.21 L101.40 93.34 L101.55 93.47 L101.70 93.61 L101.85 93.74 L102.00 93.87 L102.15 94.00 L102.30 94.14 L102.45 94.27 L102.60 94.40 L102.75 94.53 L102.90 94.66 L103.05 94.80 L103.20 94.93 L103.35 95.06 L103.50 95.19 L103.65 95.32 L103.80 95.46 L103.95 95.59 L104.10 95.72 L104.25 95.85 L104.40 95.99 L104.55 96.12 L104.70 96.25 L104.85 96.38 L105.00 96.51 L105.15 96.65 L105.30 96.78 L105.45 96.91 L105.60 97.04 L105.75 97.17 L105.90 97.31 L106.05 97.44 L106.20 97.57 L106.35 97.70 L106.50 97.83 L106.65 97.97 L106.80 98.10 L106.95 98.23 L107.10 98.36 L107.25 98.49 L107.40 98.63 L107.55 98.76 L107.70 98.89 L107.85 99.02 L108.00 99.15 L108.15 99.29 L108.30 99.42 L108.45 99.55 L108.60 99.68 L108.75 99.81 L108.90 99.95 L109.05 100.08 L109.20 100.21 L109.35 100.34 L109.50 100.47 L109.65 100.61 L109.80 100.74 L109.95 100.87 L110.10 101.00 L110.25 101.13 L110.40 101.26 L110.55 101.40 L110.70 101.53 L110.85 101.66 L111.00 101.79 L111.15 101.92 L111.30 102.06 L111.45 102.19 L111.60 102.32 L111.75 102.45 L111.90 102.58 L112.05 102.71 L112.20 102.85 L112.35 102.98 L112.50 103.11 L112.65 103.24 L112.80 103.37 L112.95 103.50 L113.10 103.64 L113.25 103.77 L113.40 103.90 L113.55 104.03 L113.70 104.16 L113.85 104.29 L114.00 104.42 L114.15 104.56 L114.30 104.69 L114.45 104.82 L114.60 104.95 L114.75 105.08 L114.90 105.21 L115.05 105.35 L115.20 105.48 L115.35 105.61 L115.50 105.74 L115.65 105.87 L115.80 106.00 L115.95 106.13 L116.10 106.27 L116.25 106.40 L116.40 106.53 L116.55 106.66 L116.70 106.79 L116.85 106.92 L117.00 107.05 L117.15 107.18 L117.30 107.32 L117.45 107.45 L117.60 107.58 L117.75 107.71 L117.90 107.84 L118.05 107.97 L118.20 108.10 L118.35 108.23 L118.50 108.37 L118.65 108.50 L118.80 108.63 L118.95 108.76 L119.10 108.89 L119.25 109.02 L119.40 109.15 L119.55 109.28 L119.70 109.41 L119.85 109.55 L120.00 109.68 L120.15 109.81 L120.30 109.94 L120.45 110.07 L120.60 110.20 L120.75 110.33 L120.90 110.46 L121.05 110.59 L121.20 110.72 L121.35 110.86 L121.50 110.99 L121.65 111.12 L121.80 111.25 L121.95 111.38 L122.10 111.51 L122.25 111.64 L122.40 111.77 L122.55 111.90 L122.70 112.03 L122.85 112.16 L123.00 112.29 L123.15 112.42 L123.30 112.56 L123.45 112.69 L123.60 112.82 L123.75 112.95 L123.90 113.08 L124.05 113.21 L124.20 113.34 L124.35 113.47 L124.50 113.60 L124.65 113.73 L124.80 113.86 L124.95 113.99 L125.10 114.12 L125.25 114.25 L125.40 114.38 L125.55 114.51 L125.70 114.64 L125.85 114.77 L126.00 114.90 L126.15 115.03 L126.30 115.17 L126.45 115.30 L126.60 115.43 L126.75 115.56 L126.90 115.69 L127.05 115.82 L127.20 115.95 L127.35 116.08 L127.50 116.21 L127.65 116.34 L127.80 116.47 L127.95 116.60 L128.10 116.73 L128.25 116.86 L128.40 116.99 L128.55 117.12 L128.70 117.25 L128.85 117.38 L129.00 117.51 L129.15 117.64 L129.30 117.77 L129.45 117.90 L129.60 118.03 L129.75 118.16 L129.90 118.29 L130.05 118.42 L130.20 118.55 L130.35 118.68 L130.50 118.81 L130.65 118.93 L130.80 119.06 L130.95 119.19 L131.10 119.32 L131.25 119.45 L131.40 119.58 L131.55 119.71 L131.70 119.84 L131.85 119.97 L132.00 120.10 L132.15 120.23 L132.30 120.36 L132.45 120.49 L132.60 120.62 L132.75 120.75 L132.90 120.88 L133.05 121.01 L133.20 121.14 L133.35 121.26 L133.50 121.39 L133.65 121.52 L133.80 121.65 L133.95 121.78 L134.10 121.91 L134.25 122.04 L134.40 122.17 L134.55 122.30 L134.70 122.43 L134.85 122.55 L135.00 122.68 L135.15 122.81 L135.30 122.94 L135.45 123.07 L135.60 123.20 L135.75 123.33 L135.90 123.46 L136.05 123.58 L136.20 123.71 L136.35 123.84 L136.50 123.97 L136.65 124.10 L136.80 124.23 L136.95 124.36 L137.10 124.48 L137.25 124.61 L137.40 124.74 L137.55 124.87 L137.70 125.00 L137.85 125.13 L138.00 125.25 L138.15 125.38 L138.30 125.51 L138.45 125.64 L138.60 125.77 L138.75 125.89 L138.90 126.02 L139.05 126.15 L139.20 126.28 L139.35 126.41 L139.50 126.53 L139.65 126.66 L139.80 126.79 L139.95 126.92 L140.10 127.05 L140.25 127.17 L140.40 127.30 L140.55 127.43 L140.70 127.56 L140.85 127.68 L141.00 127.81 L141.15 127.94 L141.30 128.07 L141.45 128.19 L141.60 128.32 L141.75 128.45 L141.90 128.57 L142.05 128.70 L142.20 128.83 L142.35 128.96 L142.50 129.08 L142.65 129.21 L142.80 129.34 L142.95 129.46 L143.10 129.59 L143.25 129.72 L143.40 129.84 L143.55 129.97 L143.70 130.10 L143.85 130.22 L144.00 130.35 L144.15 130.48 L144.30 130.60 L144.45 130.73 L144.60 130.86 L144.75 130.98 L144.90 131.11 L145.05 131.24 L145.20 131.36 L145.35 131.49 L145.50 131.61 L145.65 131.74 L145.80 131.87 L145.95 131.99 L146.10 132.12 L146.25 132.24 L146.40 132.37 L146.55 132.50 L146.70 132.62 L146.85 132.75 L147.00 132.87 L147.15 133.00 L147.30 133.12 L147.45 133.25 L147.60 133.37 L147.75 133.50 L147.90 133.63 L148.05 133.75 L148.20 133.88 L148.35 134.00 L148.50 134.13 L148.65 134.25 L148.80 134.38 L148.95 134.50 L149.10 134.63 L149.25 134.75 L149.40 134.87 L149.55 135.00 L149.70 135.12 L149.85 135.25 L150.00 135.37 L150.15 135.50 L150.30 135.62 L150.45 135.75 L150.60 135.87 L150.75 135.99 L150.90 136.12 L151.05 136.24 L151.20 136.37 L151.35 136.49 L151.50 136.61 L151.65 136.74 L151.80 136.86 L151.95 136.98 L152.10 137.11 L152.25 137.23 L152.40 137.36 L152.55 137.48 L152.70 137.60 L152.85 137.72 L153.00 137.85 L153.15 137.97 L153.30 138.09 L153.45 138.22 L153.60 138.34 L153.75 138.46 L153.90 138.58 L154.05 138.71 L154.20 138.83 L154.35 138.95 L154.50 139.07 L154.65 139.20 L154.80 139.32 L154.95 139.44 L155.10 139.56 L155.25 139.69 L155.40 139.81 L155.55 139.93 L155.70 140.05 L155.85 140.17 L156.00 140.29 L156.15 140.42 L156.30 140.54 L156.45 140.66 L156.60 140.78 L156.75 140.90 L156.90 141.02 L157.05 141.14 L157.20 141.26 L157.35 141.38 L157.50 141.50 L157.65 141.63 L157.80 141.75 L157.95 141.87 L158.10 141.99 L158.25 142.11 L158.40 142.23 L158.55 142.35 L158.70 142.47 L158.85 142.59 L159.00 142.71 L159.15 142.83 L159.30 142.95 L159.45 143.07 L159.60 143.18 L159.75 143.30 L159.90 143.42 L160.05 143.54 L160.20 143.66 L160.35 143.78 L160.50 143.90 L160.65 144.02 L160.80 144.14 L160.95 144.25 L161.10 144.37 L161.25 144.49 L161.40 144.61 L161.55 144.73 L161.70 144.84 L161.85 144.96 L162.00 145.08 L162.15 145.20 L162.30 145.32 L162.45 145.43 L162.60 145.55 L162.75 145.67 L162.90 145.78 L163.05 145.90 L163.20 146.02 L163.35 146.13 L163.50 146.25 L163.65 146.37 L163.80 146.48 L163.95 146.60 L164.10 146.72 L164.25 146.83 L164.40 146.95 L164.55 147.06 L164.70 147.18 L164.85 147.29 L165.00 147.41 L165.15 147.52 L165.30 147.64 L165.45 147.75 L165.60 147.87 L165.75 147.98 L165.90 148.10 L166.05 148.21 L166.20 148.33 L166.35 148.44 L166.50 148.55 L166.65 148.67 L166.80 148.78 L166.95 148.89 L167.10 149.01 L167.25 149.12 L167.40 149.23 L167.55 149.35 L167.70 149.46 L167.85 149.57 L168.00 149.68 L168.15 149.80 L168.30 149.91 L168.45 150.02 L168.60 150.13 L168.75 150.24 L168.90 150.35 L169.05 150.47 L169.20 150.58 L169.35 150.69 L169.50 150.80 L169.65 150.91 L169.80 151.02 L169.95 151.13 L170.10 151.24 L170.25 151.35 L170.40 151.46 L170.55 151.57 L170.70 151.68 L170.85 151.79 L171.00 151.90 L171.15 152.01 L171.30 152.11 L171.45 152.22 L171.60 152.33 L171.75 152.44 L171.90 152.55 L172.05 152.66 L172.20 152.76 L172.35 152.87 L172.50 152.98 L172.65 153.08 L172.80 153.19 L172.95 153.30 L173.10 153.40 L173.25 153.51 L173.40 153.62 L173.55 153.72 L173.70 153.83 L173.85 153.93 L174.00 154.04 L174.15 154.14 L174.30 154.25 L174.45 154.35 L174.60 154.46 L174.75 154.56 L174.90 154.66 L175.05 154.77 L175.20 154.87 L175.35 154.97 L175.50 155.08 L175.65 155.18 L175.80 155.28 L175.95 155.38 L176.10 155.49 L176.25 155.59 L176.40 155.69 L176.55 155.79 L176.70 155.89 L176.85 155.99 L177.00 156.09 L177.15 156.19 L177.30 156.29 L177.45 156.39 L177.60 156.49 L177.75 156.59 L177.90 156.69 L178.05 156.79 L178.20 156.89 L178.35 156.99 L178.50 157.08 L178.65 157.18 L178.80 157.28 L178.95 157.38 L179.10 157.47 L179.25 157.57 L179.40 157.67 L179.55 157.76 L179.70 157.86 L179.85 157.95 L180.00 158.05 L180.15 158.14 L180.30 158.24 L180.45 158.33 L180.60 158.42 L180.75 158.52 L180.90 158.61 L181.05 158.70 L181.20 158.80 L181.35 158.89 L181.50 158.98 L181.65 159.07 L181.80 159.16 L181.95 159.26 L182.10 159.35 L182.25 159.44 L182.40 159.53 L182.55 159.62 L182.70 159.71 L182.85 159.79 L183.00 159.88 L183.15 159.97 L183.30 160.06 L183.45 160.15 L183.60 160.23 L183.75 160.32 L183.90 160.41 L184.05 160.49 L184.20 160.58 L184.35 160.66 L184.50 160.75 L184.65 160.83 L184.80 160.92 L184.95 161.00 L185.10 161.08 L185.25 161.17 L185.40 161.25 L185.55 161.33 L185.70 161.41 L185.85 161.49 L186.00 161.58 L186.15 161.66 L186.30 161.74 L186.45 161.81 L186.60 161.89 L186.75 161.97 L186.90 162.05 L187.05 162.13 L187.20 162.21 L187.35 162.28 L187.50 162.36 L187.65 162.43 L187.80 162.51 L187.95 162.59 L188.10 162.66 L188.25 162.73 L188.40 162.81 L188.55 162.88 L188.70 162.95 L188.85 163.02 L189.00 163.10 L189.15 163.17 L189.30 163.24 L189.45 163.31 L189.60 163.38 L189.75 163.45 L189.90 163.51 L190.05 163.58 L190.20 163.65 L190.35 163.72 L190.50 163.78 L190.65 163.85 L190.80 163.91 L190.95 163.98 L191.10 164.04 L191.25 164.10 L191.40 164.16 L191.55 164.23 L191.70 164.29 L191.85 164.35 L192.00 164.41 L192.15 164.47 L192.30 164.53 L192.45 164.58 L192.60 164.64 L192.75 164.70 L192.90 164.76 L193.05 164.81 L193.20 164.87 L193.35 164.92 L193.50 164.97 L193.65 165.03 L193.80 165.08 L193.95 165.13 L194.10 165.18 L194.25 165.23 L194.40 165.28 L194.55 165.33 L194.70 165.37 L194.85 165.42 L195.00 165.47 L195.15 165.51 L195.30 165.56 L195.45 165.60 L195.60 165.64 L195.75 165.68 L195.90 165.72 L196.05 165.76 L196.20 165.80 L196.35 165.84 L196.50 165.88 L196.65 165.92 L196.80 165.95 L196.95 165.99 L197.10 166.02 L197.25 166.05 L197.40 166.09 L197.55 166.12 L197.70 166.15 L197.85 166.18 L198.00 166.21 L198.15 166.23 L198.30 166.26 L198.45 166.28 L198.60 166.31 L198.75 166.33 L198.90 166.35 L199.05 166.37 L199.20 166.39 L199.35 166.41 L199.50 166.43 L199.65 166.45 L199.80 166.46 L199.95 166.48 L200.10 166.49 L200.25 166.50 L200.40 166.51 L200.55 166.52 L200.70 166.53 L200.85 166.54 L201.00 166.54 L201.15 166.55 L201.30 166.55 L201.45 166.55 L201.60 166.55 L201.75 166.55 L201.90 166.55 L202.05 166.55 L202.20 166.54 L202.35 166.53 L202.50 166.53 L202.65 166.52 L202.80 166.50 L202.95 166.49 L203.10 166.48 L203.25 166.46 L203.40 166.44 L203.55 166.43 L203.70 166.40 L203.85 166.38 L204.00 166.36 L204.15 166.33 L204.30 166.30 L204.45 166.28 L204.60 166.24 L204.75 166.21 L204.90 166.18 L205.05 166.14 L205.20 166.10 L205.35 166.06 L205.50 166.02 L205.65 165.97 L205.80 165.93 L205.95 165.88 L206.10 165.83 L206.25 165.77 L206.40 165.72 L206.55 165.66 L206.70 165.60 L206.85 165.54 L207.00 165.47 L207.15 165.40 L207.30 165.33 L207.45 165.26 L207.60 165.18 L207.75 165.11 L207.90 165.03 L208.05 164.94 L208.20 164.86 L208.35 164.77 L208.50 164.68 L208.65 164.58 L208.80 164.48 L208.95 164.38 L209.10 164.28 L209.25 164.17 L209.40 164.06 L209.55 163.94 L209.70 163.82 L209.85 163.70 L210.00 163.58 L210.15 163.45 L210.30 163.31 L210.45 163.18 L210.60 163.04 L210.75 162.89 L210.90 162.74 L211.05 162.58 L211.20 162.42 L211.35 162.26 L211.50 162.09 L211.65 161.92 L211.80 161.74 L211.95 161.55 L212.10 161.36 L212.25 161.17 L212.40 160.96 L212.55 160.76 L212.70 160.54 L212.85 160.32 L213.00 160.09 L213.15 159.86 L213.30 159.62 L213.45 159.37 L213.60 159.11 L213.75 158.84 L213.90 158.57 L214.05 158.28 L214.20 157.99 L214.35 157.69 L214.50 157.38 L214.65 157.06 L214.80 156.73 L214.95 156.38 L215.10 156.03 L215.25 155.66 L215.40 155.27 L215.55 154.87 L215.70 154.46 L215.85 154.03 L216.00 153.59 L216.15 153.13 L216.30 152.64 L216.45 152.14 L216.60 151.62 L216.75 151.07 L216.90 150.50 L217.05 149.91 L217.20 149.28 L217.35 148.63 L217.50 147.94 L217.65 147.22 L217.80 146.47 L217.95 145.68 L218.10 144.85 L218.25 143.96 L218.40 143.02 L218.55 142.02 L218.70 140.94 L218.85 139.79 L219.00 138.55 L219.15 137.21 L219.30 135.74 L219.45 134.14 L219.60 132.36 L219.75 130.38 L219.90 128.15 L220.05 125.58 L220.20 122.59 L220.35 118.99 L220.50 118.29 L220.65 122.38 L220.80 125.77 L220.95 128.68 L221.10 131.23 L221.25 133.50 L221.40 135.54 L221.55 137.40 L221.70 139.12 L221.85 140.70 L222.00 142.18 L222.15 143.56 L222.30 144.85 L222.45 146.08 L222.60 147.24 L222.75 148.34 L222.90 149.39 L223.05 150.39 L223.20 151.35 L223.35 152.27 L223.50 153.15 L223.65 154.00 L223.80 154.82 L223.95 155.61 L224.10 156.38 L224.25 157.11 L224.40 157.83 L224.55 158.53 L224.70 159.21 L224.85 159.87 L225.00 160.51 L225.15 161.14 L225.30 161.74 L225.45 162.34 L225.60 162.91 L225.75 163.47 L225.90 164.02 L226.05 164.55 L226.20 165.08 L226.35 165.59 L226.50 166.08 L226.65 166.57 L226.80 167.05 L226.95 167.51 L227.10 167.97 L227.25 168.41 L227.40 168.85 L227.55 169.28 L227.70 169.70 L227.85 170.11 L228.00 170.51 L228.15 170.91 L228.30 171.29 L228.45 171.67 L228.60 172.05 L228.75 172.41 L228.90 172.77 L229.05 173.12 L229.20 173.46 L229.35 173.80 L229.50 174.13 L229.65 174.46 L229.80 174.78 L229.95 175.09 L230.10 175.40 L230.25 175.70 L230.40 176.00 L230.55 176.29 L230.70 176.57 L230.85 176.85 L231.00 177.12 L231.15 177.39 L231.30 177.66 L231.45 177.92 L231.60 178.17 L231.75 178.42 L231.90 178.67 L232.05 178.91 L232.20 179.14 L232.35 179.37 L232.50 179.59 L232.65 179.81 L232.80 180.03 L232.95 180.24 L233.10 180.45 L233.25 180.65 L233.40 180.84 L233.55 181.04 L233.70 181.22 L233.85 181.41 L234.00 181.59 L234.15 181.76 L234.30 181.93 L234.45 182.10 L234.60 182.26 L234.75 182.41 L234.90 182.56 L235.05 182.71 L235.20 182.85 L235.35 182.99 L235.50 183.13 L235.65 183.26 L235.80 183.38 L235.95 183.50 L236.10 183.62 L236.25 183.73 L236.40 183.84 L236.55 183.94 L236.70 184.04 L236.85 184.13 L237.00 184.22 L237.15 184.31 L237.30 184.39 L237.45 184.46 L237.60 184.53 L237.75 184.60 L237.90 184.66 L238.05 184.72 L238.20 184.77 L238.35 184.82 L238.50 184.86 L238.65 184.90 L238.80 184.93 L238.95 184.96 L239.10 184.98 L239.25 185.00 L239.40 185.01 L239.55 185.02 L239.70 185.03 L239.85 185.02 L240.00 185.02 L240.15 185.00 L240.30 184.98 L240.45 184.96 L240.60 184.93 L240.75 184.90 L240.90 184.85 L241.05 184.81 L241.20 184.76 L241.35 184.70 L241.50 184.63 L241.65 184.56 L241.80 184.48 L241.95 184.40 L242.10 184.30 L242.25 184.21 L242.40 184.10 L242.55 183.98 L242.70 183.86 L242.85 183.73 L243.00 183.59 L243.15 183.45 L243.30 183.29 L243.45 183.13 L243.60 182.95 L243.75 182.77 L243.90 182.57 L244.05 182.37 L244.20 182.16 L244.35 181.93 L244.50 181.69 L244.65 181.44 L244.80 181.17 L244.95 180.90 L245.10 180.61 L245.25 180.30 L245.40 179.98 L245.55 179.65 L245.70 179.29 L245.85 178.92 L246.00 178.53 L246.15 178.12 L246.30 177.68 L246.45 177.23 L246.60 176.75 L246.75 176.24 L246.90 175.71 L247.05 175.14 L247.20 174.55 L247.35 173.92 L247.50 173.26 L247.65 172.55 L247.80 171.82 L247.95 171.04 L248.10 170.21 L248.25 169.32 L248.40 168.38 L248.55 167.36 L248.70 166.27 L248.85 165.09 L249.00 163.81 L249.15 162.41 L249.30 160.88 L249.45 159.18 L249.60 157.30 L249.75 155.17 L249.90 152.74 L250.05 149.91 L250.20 146.54 L250.35 143.02 L250.50 147.39 L250.65 150.98 L250.80 154.01 L250.95 156.65 L251.10 158.98 L251.25 161.07 L251.40 162.96 L251.55 164.69 L251.70 166.28 L251.85 167.75 L252.00 169.13 L252.15 170.41 L252.30 171.61 L252.45 172.75 L252.60 173.82 L252.75 174.83 L252.90 175.79 L253.05 176.71 L253.20 177.58 L253.35 178.41 L253.50 179.20 L253.65 179.96 L253.80 180.69 L253.95 181.40 L254.10 182.07 L254.25 182.72 L254.40 183.34 L254.55 183.94 L254.70 184.51 L254.85 185.06 L255.00 185.59 L255.15 186.10 L255.30 186.58 L255.45 187.05 L255.60 187.50 L255.75 187.93 L255.90 188.35 L256.05 188.74 L256.20 189.13 L256.35 189.49 L256.50 189.84 L256.65 190.17 L256.80 190.49 L256.95 190.79 L257.10 191.08 L257.25 191.35 L257.40 191.62 L257.55 191.87 L257.70 192.10 L257.85 192.32 L258.00 192.53 L258.15 192.73 L258.30 192.91 L258.45 193.08 L258.60 193.24 L258.75 193.38 L258.90 193.52 L259.05 193.64 L259.20 193.75 L259.35 193.85 L259.50 193.93 L259.65 194.01 L259.80 194.07 L259.95 194.13 L260.10 194.17 L260.25 194.20 L260.40 194.22 L260.55 194.24 L260.70 194.24 L260.85 194.22 L261.00 194.20 L261.15 194.17 L261.30 194.12 L261.45 194.07 L261.60 194.00 L261.75 193.92 L261.90 193.82 L262.05 193.71 L262.20 193.59 L262.35 193.45 L262.50 193.30 L262.65 193.13 L262.80 192.94 L262.95 192.74 L263.10 192.51 L263.25 192.27 L263.40 192.00 L263.55 191.71 L263.70 191.40 L263.85 191.07 L264.00 190.71 L264.15 190.32 L264.30 189.90 L264.45 189.44 L264.60 188.96 L264.75 188.44 L264.90 187.88 L265.05 187.28 L265.20 186.63 L265.35 185.93 L265.50 185.20 L265.65 184.42 L265.80 183.57 L265.95 182.66 L266.10 181.67 L266.25 180.59 L266.40 179.42 L266.55 178.14 L266.70 176.73 L266.85 175.18 L267.00 173.45 L267.15 171.50 L267.30 169.29 L267.45 166.73 L267.60 163.73 L267.75 160.11 L267.90 159.98 L268.05 163.97 L268.20 167.29 L268.35 170.12 L268.50 172.59 L268.65 174.78 L268.80 176.74 L268.95 178.51 L269.10 180.13 L269.25 181.62 L269.40 182.99 L269.55 184.26 L269.70 185.44 L269.85 186.54 L270.00 187.57 L270.15 188.53 L270.30 189.43 L270.45 190.28 L270.60 191.07 L270.75 191.82 L270.90 192.53 L271.05 193.20 L271.20 193.84 L271.35 194.43 L271.50 194.99 L271.65 195.51 L271.80 196.00 L271.95 196.45 L272.10 196.88 L272.25 197.27 L272.40 197.63 L272.55 197.96 L272.70 198.27 L272.85 198.55 L273.00 198.80 L273.15 199.03 L273.30 199.23 L273.45 199.42 L273.60 199.57 L273.75 199.71 L273.90 199.83 L274.05 199.92 L274.20 200.00 L274.35 200.06 L274.50 200.10 L274.65 200.13 L274.80 200.14 L274.95 200.13 L275.10 200.10 L275.25 200.06 L275.40 200.01 L275.55 199.93 L275.70 199.83 L275.85 199.71 L276.00 199.57 L276.15 199.40 L276.30 199.21 L276.45 198.98 L276.60 198.72 L276.75 198.44 L276.90 198.11 L277.05 197.75 L277.20 197.35 L277.35 196.89 L277.50 196.40 L277.65 195.85 L277.80 195.24 L277.95 194.58 L278.10 193.86 L278.25 193.08 L278.40 192.23 L278.55 191.30 L278.70 190.27 L278.85 189.14 L279.00 187.89 L279.15 186.50 L279.30 184.95 L279.45 183.21 L279.60 181.24 L279.75 178.98 L279.90 176.35 L280.05 173.23 L280.20 169.41 L280.35 171.53 L280.50 175.28 L280.65 178.41 L280.80 181.09 L280.95 183.43 L281.10 185.50 L281.25 187.34 L281.40 189.00 L281.55 190.51 L281.70 191.88 L281.85 193.13 L282.00 194.28 L282.15 195.33 L282.30 196.30 L282.45 197.19 L282.60 198.01 L282.75 198.76 L282.90 199.47 L283.05 200.11 L283.20 200.70 L283.35 201.24 L283.50 201.72 L283.65 202.16 L283.80 202.54 L283.95 202.87 L284.10 203.16 L284.25 203.42 L284.40 203.63 L284.55 203.81 L284.70 203.96 L284.85 204.07 L285.00 204.16 L285.15 204.22 L285.30 204.26 L285.45 204.28 L285.60 204.28 L285.75 204.26 L285.90 204.21 L286.05 204.14 L286.20 204.05 L286.35 203.92 L286.50 203.77 L286.65 203.57 L286.80 203.34 L286.95 203.05 L287.10 202.72 L287.25 202.33 L287.40 201.88 L287.55 201.36 L287.70 200.77 L287.85 200.10 L288.00 199.37 L288.15 198.55 L288.30 197.64 L288.45 196.62 L288.60 195.47 L288.75 194.19 L288.90 192.74 L289.05 191.09 L289.20 189.22 L289.35 187.06 L289.50 184.55 L289.65 181.55 L289.80 177.90 L289.95 178.55 L290.10 182.39 L290.25 185.56 L290.40 188.25 L290.55 190.58 L290.70 192.61 L290.85 194.41 L291.00 196.02 L291.15 197.45 L291.30 198.73 L291.45 199.89 L291.60 200.93 L291.75 201.86 L291.90 202.69 L292.05 203.44 L292.20 204.13 L292.35 204.73 L292.50 205.26 L292.65 205.71 L292.80 206.09 L292.95 206.40 L293.10 206.66 L293.25 206.86 L293.40 207.02 L293.55 207.13 L293.70 207.22 L293.85 207.27 L294.00 207.30 L294.15 207.30 L294.30 207.28 L294.45 207.23 L294.60 207.16 L294.75 207.05 L294.90 206.90 L295.05 206.71 L295.20 206.45 L295.35 206.14 L295.50 205.75 L295.65 205.27 L295.80 204.70 L295.95 204.03 L296.10 203.29 L296.25 202.43 L296.40 201.45 L296.55 200.33 L296.70 199.04 L296.85 197.57 L297.00 195.87 L297.15 193.91 L297.30 191.61 L297.45 188.89 L297.60 185.59 L297.75 182.60 L297.90 186.78 L298.05 190.15 L298.20 192.97 L298.35 195.37 L298.50 197.43 L298.65 199.23 L298.80 200.81 L298.95 202.20 L299.10 203.41 L299.25 204.48 L299.40 205.41 L299.55 206.22 L299.70 206.94 L299.85 207.55 L300.00 208.07 L300.15 208.48 L300.30 208.79 L300.45 209.04 L300.60 209.21 L300.75 209.34 L300.90 209.43 L301.05 209.48 L301.20 209.51 L301.35 209.51 L301.50 209.47 L301.65 209.41 L301.80 209.32 L301.95 209.18 L302.10 208.99 L302.25 208.72 L302.40 208.37 L302.55 207.91 L302.70 207.33 L302.85 206.63 L303.00 205.83 L303.15 204.88 L303.30 203.76 L303.45 202.46 L303.60 200.93 L303.75 199.14 L303.90 197.03 L304.05 194.52 L304.20 191.48 L304.35 187.70 L304.50 190.18 L304.65 193.72 L304.80 196.63 L304.95 199.07 L305.10 201.14 L305.25 202.91 L305.40 204.43 L305.55 205.74 L305.70 206.86 L305.85 207.80 L306.00 208.59 L306.15 209.27 L306.30 209.82 L306.45 210.24 L306.60 210.53 L306.75 210.74 L306.90 210.89 L307.05 210.98 L307.20 211.04 L307.35 211.07 L307.50 211.06 L307.65 211.03 L307.80 210.96 L307.95 210.86 L308.10 210.69 L308.25 210.46 L308.40 210.13 L308.55 209.66 L308.70 209.03 L308.85 208.29 L309.00 207.38 L309.15 206.28 L309.30 204.96 L309.45 203.38 L309.60 201.49 L309.75 199.23 L309.90 196.48 L310.05 193.08 L310.20 192.21 L310.35 196.01 L310.50 199.06 L310.65 201.58 L310.80 203.68 L310.95 205.44 L311.10 206.91 L311.25 208.15 L311.40 209.16 L311.55 209.97 L311.70 210.65 L311.85 211.17 L312.00 211.51 L312.15 211.75 L312.30 211.90 L312.45 212.00 L312.60 212.05 L312.75 212.08 L312.90 212.07 L313.05 212.03 L313.20 211.95 L313.35 211.83 L313.50 211.64 L313.65 211.35 L313.80 210.91 L313.95 210.27 L314.10 209.50 L314.25 208.52 L314.40 207.29 L314.55 205.79 L314.70 203.95 L314.85 201.71 L315.00 198.96 L315.15 195.51 L315.30 195.58 L315.45 199.18 L315.60 202.07 L315.75 204.41 L315.90 206.33 L316.05 207.91 L316.20 209.18 L316.35 210.20 L316.50 210.98 L316.65 211.60 L316.80 212.01 L316.95 212.26 L317.10 212.42 L317.25 212.52 L317.40 212.57 L317.55 212.59 L317.70 212.58 L317.85 212.54 L318.00 212.45 L318.15 212.31 L318.30 212.08 L318.45 211.73 L318.60 211.14 L318.75 210.38 L318.90 209.39 L319.05 208.11 L319.20 206.49 L319.35 204.48 L319.50 201.98 L319.65 198.83 L319.80 196.43 L319.95 200.22 L320.10 203.19 L320.25 205.55 L320.40 207.45 L320.55 208.96 L320.70 210.13 L320.85 211.01 L321.00 211.68 L321.15 212.11 L321.30 212.35 L321.45 212.50 L321.60 212.58 L321.75 212.63 L321.90 212.64 L322.05 212.62 L322.20 212.56 L322.35 212.46 L322.50 212.29 L322.65 212.00 L322.80 211.48 L322.95 210.75 L323.10 209.75 L323.25 208.41 L323.40 206.69 L323.55 204.50 L323.70 201.71 L323.85 198.13 L324.00 200.15 L324.15 203.31 L324.30 205.78 L324.45 207.70 L324.60 209.19 L324.75 210.29 L324.90 211.07 L325.05 211.61 L325.20 211.90 L325.35 212.06 L325.50 212.16 L325.65 212.20 L325.80 212.22 L325.95 212.20 L326.10 212.15 L326.25 212.05 L326.40 211.88 L326.55 211.57 L326.70 210.98 L326.85 210.17 L327.00 209.00 L327.15 207.41 L327.30 205.34 L327.45 202.66 L327.60 199.16 L327.75 200.77 L327.90 203.83 L328.05 206.16 L328.20 207.92 L328.35 209.21 L328.50 210.09 L328.65 210.70 L328.80 211.00 L328.95 211.16 L329.10 211.26 L329.25 211.30 L329.40 211.32 L329.55 211.30 L329.70 211.24 L329.85 211.13 L330.00 210.94 L330.15 210.57 L330.30 209.90 L330.45 208.90 L330.60 207.47 L330.75 205.52 L330.90 202.94 L331.05 199.53 L331.20 200.72 L331.35 203.65 L331.50 205.83 L331.65 207.41 L331.80 208.48 L331.95 209.18 L332.10 209.53 L332.25 209.71 L332.40 209.81 L332.55 209.86 L332.70 209.88 L332.85 209.86 L333.00 209.80 L333.15 209.70 L333.30 209.51 L333.45 209.12 L333.60 208.39 L333.75 207.27 L333.90 205.62 L334.05 203.36 L334.20 200.31 L334.35 198.92 L334.50 201.99 L334.65 204.20 L334.80 205.74 L334.95 206.71 L335.10 207.31 L335.25 207.57 L335.40 207.70 L335.55 207.78 L335.70 207.82 L335.85 207.81 L336.00 207.77 L336.15 207.70 L336.30 207.54 L336.45 207.27 L336.60 206.63 L336.75 205.60 L336.90 204.00 L337.05 201.73 L337.20 198.60 L337.35 197.90 L337.50 200.63 L337.65 202.52 L337.80 203.71 L337.95 204.41 L338.10 204.70 L338.25 204.86 L338.40 204.94 L338.55 204.97 L338.70 204.98 L338.85 204.95 L339.00 204.87 L339.15 204.73 L339.30 204.46 L339.45 203.80 L339.60 202.69 L339.75 200.93 L339.90 198.39 L340.05 194.86 L340.20 196.45 L340.35 198.55 L340.50 199.85 L340.65 200.56 L340.80 200.84 L340.95 200.99 L341.10 201.07 L341.25 201.10 L341.40 201.09 L341.55 201.05 L341.70 200.98 L341.85 200.82 L342.00 200.49 L342.15 199.73 L342.30 198.39 L342.45 196.29 L342.60 193.27 L342.75 190.98 L342.90 193.21 L343.05 194.52 L343.20 195.18 L343.35 195.43 L343.50 195.55 L343.65 195.61 L343.80 195.64 L343.95 195.63 L344.10 195.59 L344.25 195.49 L344.40 195.30 L344.55 194.83 L344.70 193.89 L344.85 192.20 L345.00 189.61 L345.15 185.91 L345.30 185.18 L345.45 186.42 L345.60 186.97 L345.75 187.18 L345.90 187.27 L346.05 187.33 L346.20 187.34 L346.35 187.33 L346.50 187.26 L346.65 187.14 L346.80 186.91 L346.95 186.25 L347.10 184.92 L347.25 182.72 L347.40 179.47 L347.55 174.86 L347.70 171.44 L347.85 171.72 L348.00 171.84 L348.15 171.90 L348.30 171.92 L348.45 171.91 L348.60 171.87 L348.75 171.77 L348.90 171.56 L349.05 170.96 L349.20 169.54 L349.35 167.05 L349.50 163.39 L349.65 158.33 L349.80 151.41 L349.95 145.14 L350.10 151.63 L350.25 155.84 L350.40 158.21 L350.55 159.09 L350.70 159.30 L350.85 159.40 L351.00 159.45 L351.15 159.47 L351.30 159.45 L351.45 159.39 L351.60 166.59 L351.75 172.66 L351.90 176.85 L352.05 179.65 L352.20 181.28 L352.35 181.97 L352.50 182.18 L352.65 182.29 L352.80 182.35 L352.95 182.37 L353.10 182.35 L353.25 182.29 L353.40 182.17 L353.55 181.91 L353.70 184.04 L353.85 188.10 L354.00 190.63 L354.15 191.90 L354.30 192.39 L354.45 192.55 L354.60 192.63 L354.75 192.68 L354.90 192.69 L355.05 192.65 L355.20 192.58 L355.35 192.42 L355.50 191.98 L355.65 192.89 L355.80 196.19 L355.95 197.99 L356.10 198.70 L356.25 198.91 L356.40 199.01 L356.55 199.07 L356.70 199.09 L356.85 199.07 L357.00 199.00 L357.15 198.88 L357.30 198.60 L357.45 197.67 L357.60 200.74 L357.75 202.53 L357.90 203.17 L358.05 203.37 L358.20 203.47 L358.35 203.52 L358.50 203.53 L358.65 203.49 L358.80 203.42 L358.95 203.29 L359.10 202.95 L359.25 202.38 L359.40 205.07 L359.55 206.18 L359.70 206.52 L359.85 206.65 L360.00 206.71 L360.15 206.74 L360.30 206.74 L360.45 206.69 L360.60 206.59 L360.75 206.38 L360.90 205.67 L361.05 207.31 L361.20 208.51 L361.35 208.87 L361.50 209.00 L361.65 209.07 L361.80 209.10 L361.95 209.09 L362.10 209.05 L362.25 208.95 L362.40 208.74 L362.55 208.01 L362.70 209.60 L362.85 210.41 L363.00 210.62 L363.15 210.72 L363.30 210.76 L363.45 210.77 L363.60 210.75 L363.75 210.69 L363.90 210.57 L364.05 210.21 L364.20 210.24 L364.35 211.40 L364.50 211.70 L364.65 211.83 L364.80 211.89 L364.95 211.91 L365.10 211.89 L365.25 211.83 L365.40 211.70 L365.55 211.49 L365.70 211.00 L365.85 212.08 L366.00 212.32 L366.15 212.44 L366.30 212.51 L366.45 212.52 L366.60 212.51 L366.75 212.44 L366.90 212.32 L367.05 212.03 L367.20 211.78 L367.35 212.36 L367.50 212.52 L367.65 212.60 L367.80 212.64 L367.95 212.64 L368.10 212.61 L368.25 212.53 L368.40 212.38 L368.55 211.82 L368.70 211.97 L368.85 212.18 L369.00 212.28 L369.15 212.33 L369.30 212.33 L369.45 212.30 L369.60 212.22 L369.75 212.09 L369.90 211.69 L370.05 211.18 L370.20 211.39 L370.35 211.49 L370.50 211.53 L370.65 211.54 L370.80 211.51 L370.95 211.43 L371.10 211.27 L371.25 210.87 L371.40 209.94 L371.55 210.10 L371.70 210.18 L371.85 210.21 L372.00 210.20 L372.15 210.16 L372.30 210.06 L372.45 209.89 L372.60 209.21 L372.75 208.10 L372.90 208.20 L373.05 208.26 L373.20 208.28 L373.35 208.26 L373.50 208.20 L373.65 208.07 L373.80 207.68 L373.95 205.90 L374.10 205.56 L374.25 205.62 L374.40 205.64 L374.55 205.62 L374.70 205.56 L374.85 205.44 L375.00 205.17 L375.15 203.71 L375.30 201.93 L375.45 201.99 L375.60 202.01 L375.75 201.99 L375.90 201.93 L376.05 201.81 L376.20 201.47 L376.35 199.83 L376.50 196.89 L376.65 196.94 L376.80 196.94 L376.95 196.91 L377.10 196.83 L377.25 196.68 L377.40 196.20 L377.55 193.52 L377.70 189.36 L377.85 189.38 L378.00 189.36 L378.15 189.30 L378.30 189.19 L378.45 188.99 L378.60 187.51 L378.75 182.46 L378.90 176.19 L379.05 176.18 L379.20 176.13 L379.35 176.04 L379.50 175.83 L379.65 174.26 L379.80 168.79 L379.95 157.78 L380.10 149.47 L380.25 161.61 L380.40 172.58 L380.55 177.72 L380.70 178.93 L380.85 179.14 L381.00 179.24 L381.15 179.28 L381.30 179.29 L381.45 187.07 L381.60 190.27 L381.75 190.71 L381.90 190.87 L382.05 190.95 L382.20 190.98 L382.35 190.97 L382.50 195.88 L382.65 197.56 L382.80 197.77 L382.95 197.86 L383.10 197.91 L383.25 197.92 L383.40 198.14 L383.55 201.93 L383.70 202.46 L383.85 202.62 L384.00 202.70 L384.15 202.73 L384.30 202.72 L384.45 204.56 L384.60 205.81 L384.75 206.02 L384.90 206.12 L385.05 206.16 L385.20 206.17 L385.35 206.16 L385.50 208.22 L385.65 208.44 L385.80 208.57 L385.95 208.63 L386.10 208.65 L386.25 208.63 L386.40 209.90 L386.55 210.29 L386.70 210.41 L386.85 210.48 L387.00 210.50 L387.15 210.48 L387.30 211.16 L387.45 211.51 L387.60 211.64 L387.75 211.70 L387.90 211.72 L388.05 211.70 L388.20 212.03 L388.35 212.24 L388.50 212.34 L388.65 212.38 L388.80 212.39 L388.95 212.36 L389.10 212.29 L389.25 212.47 L389.40 212.57 L389.55 212.62 L389.70 212.62 L389.85 212.59 L390.00 212.51 L390.15 212.36 L390.30 212.36 L390.45 212.38 L390.60 212.36 L390.75 212.31 L390.90 212.21 L391.05 212.00 L391.20 211.75 L391.35 211.75 L391.50 211.72 L391.65 211.64 L391.80 211.49 L391.95 210.82 L392.10 210.52 L392.25 210.50 L392.40 210.44 L392.55 210.32 L392.70 209.98 L392.85 208.74 L393.00 208.73 L393.15 208.69 L393.30 208.59 L393.45 208.38 L393.60 206.89 L393.75 206.25 L393.90 206.21 L394.05 206.13 L394.20 205.98 L394.35 205.10 L394.50 202.85 L394.65 202.82 L394.80 202.74 L394.95 202.58 L395.10 201.95 L395.25 198.13 L395.40 198.10 L395.55 198.02 L395.70 197.87 L395.85 197.23 L396.00 191.24 L396.15 191.21 L396.30 191.13 L396.45 190.98 L396.60 190.02 L396.75 182.17 L396.90 179.73 L397.05 179.63 L397.20 179.42 L397.35 177.01 L397.50 172.83 L397.65 175.29 L397.80 175.49 L397.95 175.59 L398.10 183.02 L398.25 188.49 L398.40 188.89 L398.55 189.01 L398.70 189.07 L398.85 194.72 L399.00 196.34 L399.15 196.54 L399.30 196.64 L399.45 196.69 L399.60 201.28 L399.75 201.68 L399.90 201.80 L400.05 201.86 L400.20 204.17 L400.35 205.26 L400.50 205.42 L400.65 205.49 L400.80 205.53 L400.95 207.85 L401.10 208.06 L401.25 208.15 L401.40 208.20 L401.55 209.57 L401.70 209.97 L401.85 210.09 L402.00 210.16 L402.15 210.64 L402.30 211.18 L402.45 211.34 L402.60 211.42 L402.75 211.45 L402.90 212.05 L403.05 212.21 L403.20 212.28 L403.35 212.32 L403.50 212.31 L403.65 212.43 L403.80 212.51 L403.95 212.54 L404.10 212.53 L404.25 212.49 L404.40 212.39 L404.50 1.80"/>
<filter id="g" x="-5%" y="-5%" width="110%" height="110%"><feOffset dx="0" dy="0"/></filter></defs>
<g clip-path="url(#c)">
<use href="#purple" fill="#800a80" stroke="#800a80" stroke-width="0.5" stroke-linejoin="round"/>
<use href="#red" fill="#960a0a" stroke="#960a0a" stroke-width="0.4" stroke-linejoin="round"/>
<use href="#green" fill="#08aa08" stroke="#08aa08" stroke-width="0.5" stroke-linejoin="round"/>
<use href="#teal" fill="#067e7e" stroke="#067e7e" stroke-width="0" stroke-linejoin="round"/>
<use href="#green" fill="none" stroke="#08aa08" stroke-width="1.1" stroke-dasharray="7.9 4.2" stroke-dashoffset="-23.08" stroke-linejoin="round"/>
<use href="#red" fill="none" stroke="#960a0a" stroke-width="0.85" stroke-dasharray="13.5 1.2 1.2 1.2" stroke-dashoffset="-59.29" stroke-linejoin="round"/>
<use href="#purple" fill="none" stroke="#800a80" stroke-width="0.85" stroke-dasharray="1.5 2.5" stroke-dashoffset="-69.69" stroke-linejoin="round"/>
</g>
<g stroke="#000" stroke-width="1.4" fill="none" stroke-linecap="butt">
<rect x="65.8" y="7.8" width="337.70" height="352.70"/>
<path d="M74.76 360.5 v-5 M74.76 7.8 v5 M86.28 360.5 v-5 M86.28 7.8 v5 M96.44 360.5 v-5 M96.44 7.8 v5 M105.53 360.5 v-10 M105.53 7.8 v10 M165.33 360.5 v-5 M165.33 7.8 v5 M200.31 360.5 v-5 M200.31 7.8 v5 M225.13 360.5 v-5 M225.13 7.8 v5 M244.38 360.5 v-5 M244.38 7.8 v5 M260.11 360.5 v-5 M260.11 7.8 v5 M273.41 360.5 v-5 M273.41 7.8 v5 M284.93 360.5 v-5 M284.93 7.8 v5 M295.09 360.5 v-5 M295.09 7.8 v5 M304.18 360.5 v-10 M304.18 7.8 v10 M363.98 360.5 v-5 M363.98 7.8 v5 M398.96 360.5 v-5 M398.96 7.8 v5 M65.8 351.50 h5 M403.5 351.50 h-5 M65.8 342.96 h5 M403.5 342.96 h-5 M65.8 335.97 h5 M403.5 335.97 h-5 M65.8 330.07 h5 M403.5 330.07 h-5 M65.8 324.96 h5 M403.5 324.96 h-5 M65.8 320.45 h5 M403.5 320.45 h-5 M65.8 316.41 h10 M403.5 316.41 h-10 M65.8 289.87 h5 M403.5 289.87 h-5 M65.8 274.34 h5 M403.5 274.34 h-5 M65.8 263.33 h5 M403.5 263.33 h-5 M65.8 254.78 h5 M403.5 254.78 h-5 M65.8 247.80 h5 M403.5 247.80 h-5 M65.8 241.90 h5 M403.5 241.90 h-5 M65.8 236.78 h5 M403.5 236.78 h-5 M65.8 232.27 h5 M403.5 232.27 h-5 M65.8 228.24 h10 M403.5 228.24 h-10 M65.8 201.69 h5 M403.5 201.69 h-5 M65.8 186.17 h5 M403.5 186.17 h-5 M65.8 175.15 h5 M403.5 175.15 h-5 M65.8 166.61 h5 M403.5 166.61 h-5 M65.8 159.62 h5 M403.5 159.62 h-5 M65.8 153.72 h5 M403.5 153.72 h-5 M65.8 148.61 h5 M403.5 148.61 h-5 M65.8 144.10 h5 M403.5 144.10 h-5 M65.8 140.06 h10 M403.5 140.06 h-10 M65.8 113.52 h5 M403.5 113.52 h-5 M65.8 97.99 h5 M403.5 97.99 h-5 M65.8 86.98 h5 M403.5 86.98 h-5 M65.8 78.43 h5 M403.5 78.43 h-5 M65.8 71.45 h5 M403.5 71.45 h-5 M65.8 65.55 h5 M403.5 65.55 h-5 M65.8 60.43 h5 M403.5 60.43 h-5 M65.8 55.92 h5 M403.5 55.92 h-5 M65.8 51.89 h10 M403.5 51.89 h-10 M65.8 25.34 h5 M403.5 25.34 h-5 M65.8 9.82 h5 M403.5 9.82 h-5" stroke-width="1.2"/>
</g>
<g font-family="Liberation Sans, sans-serif" fill="#000" filter="url(#g)">
<text x="25.30" y="58.39" font-size="16.3" textLength="17.1" lengthAdjust="spacingAndGlyphs">10</text><text x="44.10" y="53.09" font-size="9.2" font-weight="bold" stroke="#000" stroke-width="0.3">−</text><text x="51.30" y="53.09" font-size="9.2" font-weight="bold" stroke="#000" stroke-width="0.3">4</text>
<text x="25.30" y="146.56" font-size="16.3" textLength="17.1" lengthAdjust="spacingAndGlyphs">10</text><text x="44.10" y="141.26" font-size="9.2" font-weight="bold" stroke="#000" stroke-width="0.3">−</text><text x="51.30" y="141.26" font-size="9.2" font-weight="bold" stroke="#000" stroke-width="0.3">5</text>
<text x="25.30" y="234.74" font-size="16.3" textLength="17.1" lengthAdjust="spacingAndGlyphs">10</text><text x="44.10" y="229.44" font-size="9.2" font-weight="bold" stroke="#000" stroke-width="0.3">−</text><text x="51.30" y="229.44" font-size="9.2" font-weight="bold" stroke="#000" stroke-width="0.3">6</text>
<text x="25.30" y="322.91" font-size="16.3" textLength="17.1" lengthAdjust="spacingAndGlyphs">10</text><text x="44.10" y="317.61" font-size="9.2" font-weight="bold" stroke="#000" stroke-width="0.3">−</text><text x="51.30" y="317.61" font-size="9.2" font-weight="bold" stroke="#000" stroke-width="0.3">7</text>
<text x="90.03" y="381.80" font-size="16.3" textLength="17.1" lengthAdjust="spacingAndGlyphs">10</text><text x="108.83" y="376.50" font-size="9.2" font-weight="bold" stroke="#000" stroke-width="0.3">−</text><text x="116.03" y="376.50" font-size="9.2" font-weight="bold" stroke="#000" stroke-width="0.3">4</text>
<text x="288.68" y="381.80" font-size="16.3" textLength="17.1" lengthAdjust="spacingAndGlyphs">10</text><text x="307.48" y="376.50" font-size="9.2" font-weight="bold" stroke="#000" stroke-width="0.3">−</text><text x="314.68" y="376.50" font-size="9.2" font-weight="bold" stroke="#000" stroke-width="0.3">3</text>
</g>
<g font-family="Liberation Serif, serif" fill="#000" filter="url(#g)">
<text x="6.0" y="189.9" font-size="16.5" font-style="italic" font-family="Liberation Sans, sans-serif" textLength="9.8" lengthAdjust="spacingAndGlyphs">χ</text>
<text x="201" y="401.5" font-size="21.5" textLength="18" lengthAdjust="spacingAndGlyphs">m</text>
<text x="219.8" y="405" font-size="18.5" font-style="italic" textLength="11.8" lengthAdjust="spacingAndGlyphs" stroke="#fff" stroke-width="0.1">γ</text>
<text x="233.2" y="403.5" font-size="13">’</text>
<text x="246.9" y="401.6" font-size="18" textLength="30.6" lengthAdjust="spacingAndGlyphs">[eV]</text>
</g>
<g font-family="Liberation Serif, serif" font-size="13.6" filter="url(#g)" word-spacing="2">
<path d="M82.2 258.9 H115.9" stroke="#08aa08" stroke-width="1.1" stroke-dasharray="7.9 4.2" fill="none"/>
<text transform="translate(134.2 262.6) scale(0.82 1)" x="0" y="0" fill="#08aa08" stroke="#08aa08" stroke-width="0.3" textLength="101.8" lengthAdjust="spacing">BFRT LSW 2<tspan font-style="italic">σ</tspan></text>
<path d="M82.2 279.8 H115.9" stroke="#067e7e" stroke-width="1.1" fill="none"/>
<text transform="translate(134.2 283.5) scale(0.82 1)" x="0" y="0" fill="#067e7e" stroke="#067e7e" stroke-width="0.3" textLength="94.3" lengthAdjust="spacing">BMV LSW 2<tspan font-style="italic">σ</tspan></text>
<path d="M82.2 300.6 H115.9" stroke="#960a0a" stroke-width="1.1" stroke-dasharray="13.5 1.2 1.2 1.2" fill="none"/>
<text transform="translate(134.2 304.4) scale(0.96 1)" x="0" y="0" fill="#960a0a" stroke="#960a0a" stroke-width="0.3" textLength="150.1" lengthAdjust="spacing">GammeV ''centre'' 2<tspan font-style="italic">σ</tspan></text>
<path d="M82.2 322.1 H115.9" stroke="#800a80" stroke-width="1.1" stroke-dasharray="1.5 2.5" fill="none"/>
<text transform="translate(134.2 325.3) scale(0.96 1)" x="0" y="0" fill="#800a80" stroke="#800a80" stroke-width="0.3" textLength="135.3" lengthAdjust="spacing">GammeV ''edge'' 2<tspan font-style="italic">σ</tspan></text>
</g>
</svg>
</body></html>
